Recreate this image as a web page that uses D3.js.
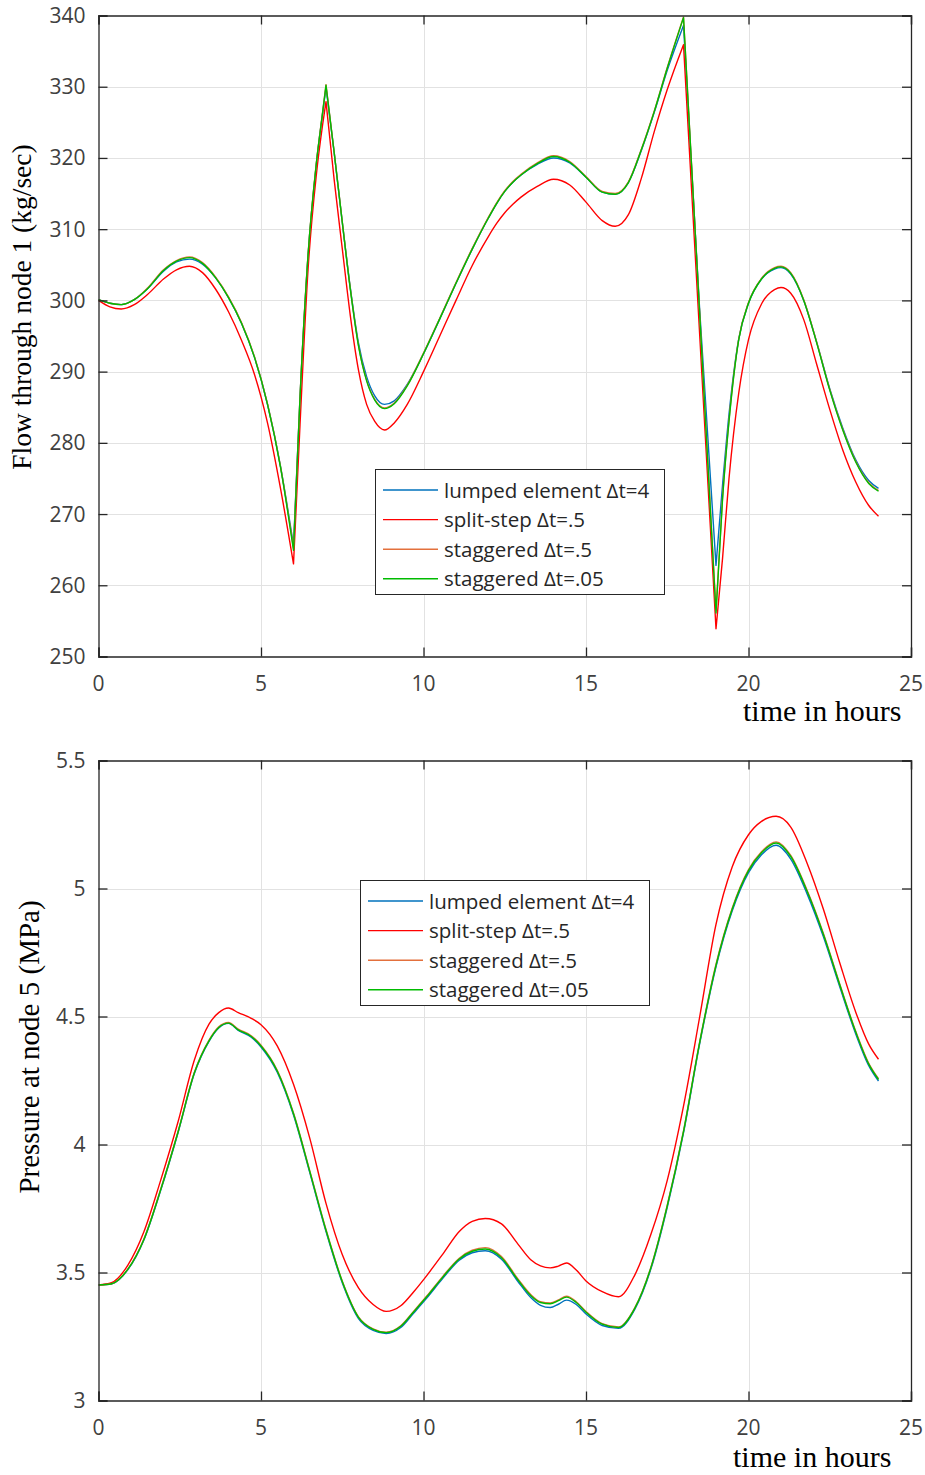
<!DOCTYPE html>
<html>
<head>
<meta charset="utf-8">
<script src="https://cdn.jsdelivr.net/npm/d3@7"></script>
<style>
  body { margin: 0; background: #fff; }
  svg { display: block; }
</style>
</head>
<body>
<svg id="fig" width="925" height="1475"></svg>
<script>
// ---- series metadata ----
const seriesNames = ["lumped element \u0394t=4", "split-step \u0394t=.5", "staggered \u0394t=.5", "staggered \u0394t=.05"];
const seriesColors = ["#0072bd", "#ff0000", "#e3703c", "#00bb00"];

// ---- tick values ----
const timeTicks = [0, 5, 10, 15, 20, 25];
const flowTicks = [250, 260, 270, 280, 290, 300, 310, 320, 330, 340];
const pressureTicks = [3, 3.5, 4, 4.5, 5, 5.5];

// ---- flow through node 1 (kg/sec) ----
const flowTime = [0, 0.35, 0.7, 1.1, 1.5, 2.0, 2.4, 2.8, 3.2, 3.6, 4.0, 4.4, 4.8, 5.2, 5.6,
  6.0, 6.2, 6.45, 6.7, 6.9, 7.0, 7.25, 7.5, 7.75, 8.0, 8.25, 8.5, 8.8, 9.1, 9.5,
  10.0, 10.5, 11.0, 11.5, 12.0, 12.25, 12.5, 12.75, 13.0, 13.5, 14.0, 14.5, 15.0, 15.5, 15.9, 16.3, 16.7,
  17.1, 17.5, 18.0, 18.5, 19.0, 19.2, 19.4, 19.7, 20.0, 20.4, 20.8, 21.0, 21.3, 21.7, 22.1,
  22.5, 22.9, 23.3, 23.7, 24.0];
// valve switching instants: the flow reverses sharply here
const flowCorners = [6.0, 7.0, 18.0, 19.0];

const flowStagFine = [300.1, 299.6, 299.4, 300.1, 301.6, 304.2, 305.5, 306.0, 305.2, 303.2, 300.4, 296.8, 292.0, 285.4, 276.6,
  264.9, 286.3, 306.5, 319.1, 326.5, 330.2, 320.8, 311.0, 301.5, 293.6, 288.7, 286.0, 284.8, 285.5, 288.0,
  292.5, 297.4, 302.4, 307.2, 311.6, 313.6, 315.3, 316.6, 317.6, 319.2, 320.2, 319.4, 317.3, 315.2, 314.9, 316.5, 321.1,
  326.5, 332.6, 339.7, 297.9, 256.1, 272.0, 283.0, 294.5, 299.6, 303.0, 304.5, 304.7, 303.8, 300.0, 294.0,
  287.4, 281.8, 277.3, 274.3, 273.2];
const flowStagHalf = [300.1, 299.6, 299.4, 300.1, 301.7, 304.3, 305.6, 306.1, 305.3, 303.3, 300.5, 296.9, 292.1, 285.5, 276.7,
  265.2, 286.4, 306.6, 319.2, 326.6, 330.3, 320.9, 311.1, 301.6, 293.7, 288.8, 286.1, 284.9, 285.6, 288.1,
  292.6, 297.5, 302.5, 307.3, 311.7, 313.7, 315.4, 316.7, 317.7, 319.3, 320.3, 319.5, 317.4, 315.3, 315.0, 316.6, 321.2,
  326.6, 332.7, 339.8, 298.0, 256.4, 272.2, 283.2, 294.6, 299.7, 303.1, 304.6, 304.8, 303.9, 300.1, 294.1,
  287.5, 281.9, 277.4, 274.4, 273.3];
const flowLumped = [300.1, 299.6, 299.4, 300.1, 301.6, 304.1, 305.4, 305.8, 305.1, 303.2, 300.4, 296.8, 292.0, 285.4, 276.7,
  265.6, 286.3, 306.4, 319.0, 326.4, 329.9, 320.8, 311.0, 301.7, 294.0, 289.3, 286.6, 285.4, 285.9, 288.2,
  292.5, 297.4, 302.4, 307.2, 311.6, 313.6, 315.3, 316.6, 317.6, 319.1, 320.0, 319.3, 317.3, 315.2, 314.9, 316.5, 321.0,
  326.4, 332.3, 338.6, 298.5, 262.8, 274.0, 284.0, 294.6, 299.6, 303.0, 304.4, 304.6, 303.7, 300.0, 294.1,
  287.6, 282.1, 277.6, 274.7, 273.6];
const flowSplit = [300.0, 299.1, 298.8, 299.4, 300.8, 303.0, 304.3, 304.8, 303.9, 301.6, 298.4, 294.4, 289.6, 282.8, 273.6,
  263.0, 282.5, 304.5, 317.5, 324.8, 327.9, 317.0, 307.3, 297.8, 290.2, 285.4, 283.0, 281.8, 282.8, 285.4,
  290.0, 295.0, 300.0, 304.9, 309.0, 310.8, 312.3, 313.5, 314.5, 316.0, 317.0, 316.2, 313.8, 311.2, 310.4, 312.0, 317.1,
  323.7, 329.6, 335.9, 295.0, 253.9, 263.7, 275.0, 287.0, 294.5, 299.5, 301.5, 301.8, 301.0, 297.3, 291.0,
  284.7, 279.0, 274.5, 271.2, 269.7];

// ---- pressure at node 5 (MPa) ----
const presTime = [0, 0.4, 0.9, 1.4, 1.9, 2.45, 2.95, 3.4, 3.7, 4.0, 4.3, 4.7, 5.0, 5.5, 6.0,
  6.5, 7.0, 7.5, 8.0, 8.45, 8.85, 9.3, 9.7, 10.1, 10.6, 11.1, 11.5, 11.9, 12.4, 12.9,
  13.3, 13.6, 13.9, 14.15, 14.4, 14.7, 15.0, 15.5, 16.0, 16.5, 17.0, 17.5, 18.0, 18.5, 19.0,
  19.5, 20.0, 20.4, 20.85, 21.3, 21.8, 22.3, 22.8, 23.3, 23.7, 24.0];

const presStagFine = [3.451, 3.456, 3.512, 3.630, 3.818, 4.050, 4.280, 4.405, 4.457, 4.474, 4.448, 4.422, 4.385, 4.287, 4.120,
  3.895, 3.665, 3.465, 3.325, 3.278, 3.265, 3.290, 3.347, 3.405, 3.483, 3.553, 3.583, 3.592, 3.558, 3.472,
  3.410, 3.383, 3.378, 3.390, 3.404, 3.383, 3.345, 3.298, 3.285, 3.360, 3.520, 3.760, 4.050, 4.400, 4.700,
  4.920, 5.070, 5.140, 5.178, 5.125, 4.990, 4.822, 4.627, 4.439, 4.314, 4.254];
const presStagHalf = [3.451, 3.456, 3.513, 3.632, 3.820, 4.052, 4.282, 4.408, 4.460, 4.477, 4.451, 4.425, 4.388, 4.290, 4.123,
  3.898, 3.668, 3.467, 3.327, 3.280, 3.267, 3.292, 3.349, 3.408, 3.486, 3.556, 3.587, 3.597, 3.562, 3.476,
  3.414, 3.386, 3.381, 3.393, 3.407, 3.386, 3.348, 3.300, 3.287, 3.362, 3.522, 3.763, 4.053, 4.403, 4.704,
  4.924, 5.074, 5.144, 5.182, 5.129, 4.994, 4.826, 4.630, 4.442, 4.317, 4.257];
const presLumped = [3.451, 3.455, 3.510, 3.628, 3.815, 4.047, 4.277, 4.403, 4.455, 4.473, 4.446, 4.419, 4.381, 4.282, 4.115,
  3.890, 3.660, 3.460, 3.320, 3.274, 3.262, 3.285, 3.342, 3.400, 3.478, 3.548, 3.577, 3.585, 3.552, 3.466,
  3.402, 3.372, 3.363, 3.376, 3.392, 3.375, 3.338, 3.293, 3.282, 3.356, 3.515, 3.755, 4.045, 4.395, 4.694,
  4.913, 5.062, 5.132, 5.169, 5.115, 4.980, 4.813, 4.619, 4.432, 4.308, 4.248];
const presSplit = [3.451, 3.460, 3.528, 3.660, 3.855, 4.090, 4.330, 4.470, 4.515, 4.533, 4.515, 4.493, 4.468, 4.385, 4.235,
  4.025, 3.770, 3.570, 3.440, 3.375, 3.348, 3.370, 3.425, 3.488, 3.573, 3.660, 3.700, 3.711, 3.690, 3.612,
  3.550, 3.526, 3.518, 3.525, 3.537, 3.510, 3.467, 3.425, 3.405, 3.490, 3.650, 3.860, 4.150, 4.500, 4.860,
  5.085, 5.210, 5.262, 5.282, 5.240, 5.100, 4.921, 4.713, 4.517, 4.392, 4.333];

// ---- figure ----
const svg = d3.select("#fig");
const AXIS = "#262626", TICKTXT = "#404040", GRID = "#e2e2e2";
const sansFont = "'Open Sans', 'Noto Sans', sans-serif";
const serifFont = "'Liberation Serif', 'DejaVu Serif', serif";

function drawPanel(cfg) {
  const { box, yDomain, yTicks, times, series, corners, ylabel, ylabelSize, legend, xlabelPos, ylabelPos, clipId } = cfg;
  const g = svg.append("g");
  const x = d3.scaleLinear().domain([0, 25]).range([box.left, box.right]);
  const y = d3.scaleLinear().domain(yDomain).range([box.bottom, box.top]);

  // grid
  g.append("g").selectAll("line").data(timeTicks.slice(1, -1)).join("line")
    .attr("x1", d => Math.round(x(d)) + 0.5).attr("x2", d => Math.round(x(d)) + 0.5)
    .attr("y1", box.top).attr("y2", box.bottom)
    .attr("stroke", GRID).attr("stroke-width", 1);
  g.append("g").selectAll("line").data(yTicks.slice(1, -1)).join("line")
    .attr("x1", box.left).attr("x2", box.right)
    .attr("y1", d => Math.round(y(d)) + 0.5).attr("y2", d => Math.round(y(d)) + 0.5)
    .attr("stroke", GRID).attr("stroke-width", 1);

  // clip
  svg.append("clipPath").attr("id", clipId).append("rect")
    .attr("x", box.left).attr("y", box.top)
    .attr("width", box.right - box.left).attr("height", box.bottom - box.top);

  // lines (split at corner instants so the reversals stay sharp)
  const lineGen = d3.line().x(d => x(d[0])).y(d => y(d[1])).curve(d3.curveMonotoneX);
  function pathFor(values) {
    const pts = times.map((t, i) => [t, values[i]]);
    const cuts = [0];
    times.forEach((t, i) => { if (corners.includes(t) && i > 0 && i < times.length - 1) cuts.push(i); });
    cuts.push(times.length - 1);
    let d = "";
    for (let k = 0; k < cuts.length - 1; k++) {
      const seg = lineGen(pts.slice(cuts[k], cuts[k + 1] + 1));
      d += k === 0 ? seg : "L" + seg.slice(1);
    }
    return d;
  }
  const lines = g.append("g").attr("clip-path", `url(#${clipId})`);
  series.forEach((vals, i) => {
    lines.append("path")
      .attr("d", pathFor(vals))
      .attr("fill", "none")
      .attr("stroke", seriesColors[i])
      .attr("stroke-width", 1.4)
      .attr("stroke-linejoin", "round");
  });

  // axes with inward ticks on all four sides
  const tickLen = 9;
  const axB = d3.axisBottom(x).tickValues(timeTicks).tickSize(-tickLen).tickFormat("");
  const axT = d3.axisTop(x).tickValues(timeTicks).tickSize(-tickLen).tickFormat("");
  const axL = d3.axisLeft(y).tickValues(yTicks).tickSize(-tickLen).tickFormat("");
  const axR = d3.axisRight(y).tickValues(yTicks).tickSize(-tickLen).tickFormat("");
  [[axB, `translate(0,${box.bottom})`], [axT, `translate(0,${box.top})`],
   [axL, `translate(${box.left},0)`], [axR, `translate(${box.right},0)`]].forEach(([ax, tr]) => {
    const a = g.append("g").attr("transform", tr).call(ax);
    a.select(".domain").attr("stroke", AXIS).attr("stroke-width", 1.3);
    a.selectAll(".tick line").attr("stroke", AXIS).attr("stroke-width", 1.3);
  });

  // tick labels
  g.append("g").selectAll("text").data(timeTicks).join("text")
    .attr("x", d => x(d)).attr("y", box.bottom + 34)
    .attr("text-anchor", "middle")
    .attr("font-family", sansFont).attr("font-size", 21).attr("fill", TICKTXT)
    .text(d => d);
  g.append("g").selectAll("text").data(yTicks).join("text")
    .attr("x", box.left - 13).attr("y", d => y(d) + 7.5)
    .attr("text-anchor", "end")
    .attr("font-family", sansFont).attr("font-size", 21).attr("fill", TICKTXT)
    .text(d => d);

  // axis titles
  g.append("text")
    .attr("x", xlabelPos[0]).attr("y", xlabelPos[1])
    .attr("font-family", serifFont).attr("font-size", 30).attr("fill", "#000")
    .text("time in hours");
  g.append("text")
    .attr("transform", `translate(${ylabelPos[0]},${ylabelPos[1]}) rotate(-90)`)
    .attr("text-anchor", "middle")
    .attr("font-family", serifFont).attr("font-size", ylabelSize).attr("fill", "#000")
    .text(ylabel);

  // legend
  const lg = g.append("g").attr("transform", `translate(${legend.x},${legend.y})`);
  lg.append("rect").attr("x", 0.5).attr("y", 0.5).attr("width", legend.w).attr("height", legend.h)
    .attr("fill", "#fff").attr("stroke", AXIS).attr("stroke-width", 1);
  seriesNames.forEach((name, i) => {
    const cy = 21 + i * 29.6;
    lg.append("line").attr("x1", 8).attr("x2", 63).attr("y1", cy).attr("y2", cy)
      .attr("stroke", seriesColors[i]).attr("stroke-width", 1.4);
    lg.append("text").attr("x", 69).attr("y", cy + 7.5)
      .attr("font-family", sansFont).attr("font-size", 20.5).attr("fill", "#262626")
      .text(name);
  });
}

drawPanel({
  box: { left: 98.5, right: 911, top: 15.5, bottom: 656.5 },
  yDomain: [250, 340], yTicks: flowTicks,
  times: flowTime,
  series: [flowLumped, flowSplit, flowStagHalf, flowStagFine],
  corners: flowCorners,
  ylabel: "Flow through node 1 (kg/sec)",
  ylabelSize: 27.5,
  legend: { x: 375, y: 469, w: 289, h: 125 },
  xlabelPos: [743, 721],
  ylabelPos: [31, 307],
  clipId: "clipFlow"
});

drawPanel({
  box: { left: 98.5, right: 911, top: 760.5, bottom: 1400.5 },
  yDomain: [3, 5.5], yTicks: pressureTicks,
  times: presTime,
  series: [presLumped, presSplit, presStagHalf, presStagFine],
  corners: [],
  ylabel: "Pressure at node 5 (MPa)",
  ylabelSize: 29,
  legend: { x: 360, y: 880, w: 289, h: 125 },
  xlabelPos: [733, 1466.5],
  ylabelPos: [39, 1047],
  clipId: "clipPres"
});
</script>
</body>
</html>
